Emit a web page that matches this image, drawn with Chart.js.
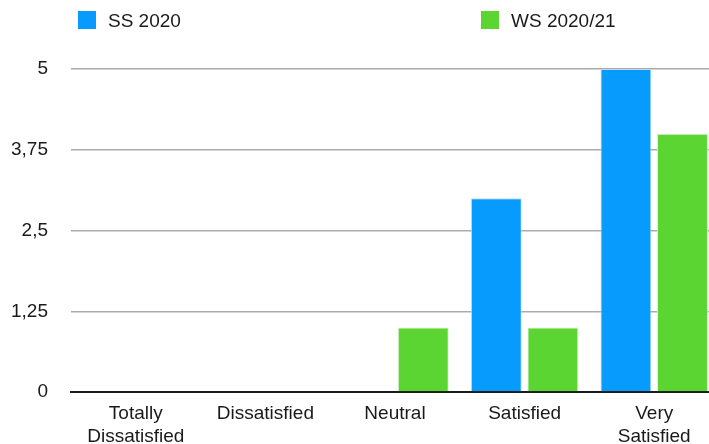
<!DOCTYPE html>
<html>
<head>
<meta charset="utf-8">
<script src="https://cdn.jsdelivr.net/npm/chart.js@4/dist/chart.umd.min.js"></script>
<style>
  html, body { margin: 0; padding: 0; background: #fff; overflow: hidden; }
  #wrap { position: relative; width: 709px; height: 444px; overflow: hidden; }
  #box { position: absolute; left: 0; top: 0; width: 719px; height: 458px; }
</style>
</head>
<body>
<div id="wrap"><div id="box"><canvas id="satisfactionChart"></canvas></div></div>
<script>
'use strict';

var categories = [['Totally', 'Dissatisfied'], 'Dissatisfied', 'Neutral', 'Satisfied', ['Very', 'Satisfied']];
var ss2020 = [0, 0, 0, 3, 5];
var ws2020 = [0, 0, 1, 1, 4];
var yTicks = [0, 1.25, 2.5, 3.75, 5];

var blue = '#079bfe';
var green = '#5bd531';
var fontFamily = '"Liberation Sans", Arial, sans-serif';

// legend laid out in two fixed columns above the plot
var sideLegend = {
    id: 'sideLegend',
    afterDraw: function(chart) {
        var ctx = chart.ctx;
        var cols = [78, 481];
        ctx.save();
        ctx.font = '19px ' + fontFamily;
        ctx.textBaseline = 'middle';
        chart.data.datasets.forEach(function(ds, i) {
            ctx.fillStyle = ds.backgroundColor;
            ctx.fillRect(cols[i], 11, 18, 18);
            ctx.fillStyle = '#1a1a1a';
            ctx.fillText(ds.label, cols[i] + 30, 21.5);
        });
        ctx.restore();
    }
};

var ctx = document.getElementById('satisfactionChart').getContext('2d');
new Chart(ctx, {
    type: 'bar',
    data: {
        labels: categories,
        datasets: [{
            label: 'SS 2020',
            data: ss2020,
            backgroundColor: blue,
            borderColor: 'rgba(200,215,225,0.9)',
            borderWidth: 1,
            borderSkipped: 'start'
        }, {
            label: 'WS 2020/21',
            data: ws2020,
            backgroundColor: green,
            borderColor: 'rgba(215,235,205,0.9)',
            borderWidth: 1,
            borderSkipped: 'start'
        }]
    },
    options: {
        responsive: true,
        maintainAspectRatio: false,
        animation: false,
        categoryPercentage: 0.873,
        barPercentage: 0.9,
        layout: {
            padding: { top: 69, left: -12, right: 0, bottom: 0 }
        },
        plugins: {
            legend: { display: false },
            tooltip: { enabled: false }
        },
        scales: {
            x: {
                grid: { display: false, drawTicks: false },
                border: { display: true, color: '#1a1a1a', width: 2 },
                ticks: {
                    color: '#1a1a1a',
                    padding: 10.5,
                    maxRotation: 0,
                    font: { family: fontFamily, size: 19, lineHeight: 1.18 }
                }
            },
            y: {
                min: 0,
                max: 5,
                afterBuildTicks: function(axis) {
                    axis.ticks = yTicks.map(function(v) { return { value: v }; });
                },
                border: { display: false },
                grid: {
                    drawTicks: false,
                    lineWidth: 1.6,
                    color: function(c) { return c.tick && c.tick.value === 0 ? 'rgba(0,0,0,0)' : '#ababab'; }
                },
                ticks: {
                    color: '#1a1a1a',
                    padding: 23,
                    font: { family: fontFamily, size: 19 },
                    callback: function(value) {
                        return String(value).replace('.', ',');
                    }
                }
            }
        }
    },
    plugins: [sideLegend]
});
</script>
</body>
</html>
